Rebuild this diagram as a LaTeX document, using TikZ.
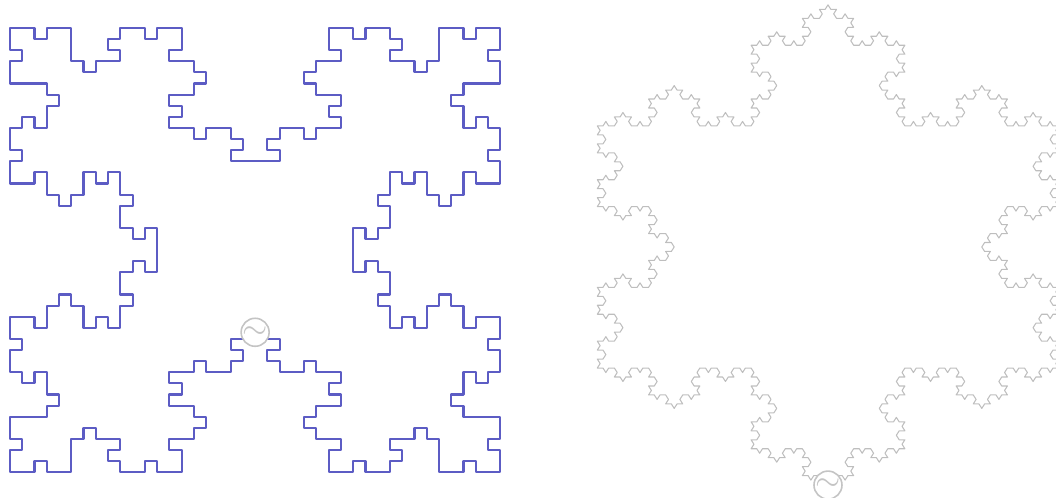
\documentclass[tikz,border=0pt]{standalone}
\definecolor{antblue}{RGB}{92,92,196}
\definecolor{flakegray}{RGB}{190,190,190}
\definecolor{feedgray}{RGB}{196,196,196}

% point stack for the grid curve: drops repeated and collinear points
\newcount\qn
\newif\ifqsame
\newif\ifqcol
\def\qX#1{\csname qx\the#1\endcsname}
\def\qY#1{\csname qy\the#1\endcsname}
\def\qpush#1#2{\edef\qpx{#1}\edef\qpy{#2}\qpushloop}
\def\qpushloop{%
  \qsamefalse\qcolfalse
  \ifnum\qn>0 \ifnum\qX\qn=\qpx\relax\ifnum\qY\qn=\qpy\relax\qsametrue\fi\fi\fi
  \ifnum\qn>1
    \ifnum\qX\qn=\qpx\relax\ifnum\qX{\numexpr\qn-1\relax}=\qpx\relax\qcoltrue\fi\fi
    \ifnum\qY\qn=\qpy\relax\ifnum\qY{\numexpr\qn-1\relax}=\qpy\relax\qcoltrue\fi\fi
  \fi
  \let\qnext\relax
  \ifqsame\else
    \ifqcol
      \global\advance\qn-1 \let\qnext\qpushloop
    \else
      \global\advance\qn1
      \expandafter\xdef\csname qx\the\qn\endcsname{\qpx}%
      \expandafter\xdef\csname qy\the\qn\endcsname{\qpy}%
    \fi
  \fi
  \qnext}

\begin{document}
\begin{tikzpicture}[
    x=0.01cm, y=-0.01cm,
    declare function={
      koff(\x)=(\x==1) ? 1 : ((\x==2) ? -1 : 0);
      kdir(\x)=koff(mod(\x,4))+koff(mod(floor(\x/4),4))+koff(mod(floor(\x/16),4))+koff(floor(\x/64));
    },
    quadline/.style={draw=antblue, line width=0.6pt, line join=round},
    flakeline/.style={draw=flakegray, line width=0.3pt, line join=round},
    feed/.style={circle, draw=feedgray, fill=white, line width=0.45pt,
      minimum size=0.28cm, inner sep=0pt, text=feedgray, font=\small}
  ]
  \useasboundingbox (0,0) rectangle (1056,498);

  % Koch island on a square, inward, snapped to a grid
  \def\gridn{40}
  \def\hone{0.3333}
  \global\qn=0
  \qpush{0}{0}
  \xdef\qox{0}\xdef\qoy{0}\xdef\qgv{0}
  \foreach \s in {0,...,3}{%
    \pgfmathtruncatemacro\tx{round(cos(90*\s))}%
    \pgfmathtruncatemacro\ty{round(sin(90*\s))}%
    \pgfmathtruncatemacro\cx{\gridn*((\s==1)||(\s==2))}%
    \pgfmathtruncatemacro\cy{\gridn*((\s==2)||(\s==3))}%
    \foreach \j in {0,...,3}{%
      \pgfmathsetmacro\pu{(\j==1)/3+(\j==2)/2+(\j==3)*2/3}%
      \pgfmathsetmacro\pv{(\j==2)*\hone}%
      \pgfmathsetmacro\du{((\j==0)||(\j==3))/3+((\j==1)||(\j==2))/6}%
      \pgfmathsetmacro\dv{(\j==1)*\hone-(\j==2)*\hone}%
      \xdef\qU{0}\xdef\qV{0}%
      \foreach \i in {0,...,63}{%
        \pgfmathtruncatemacro\mm{mod(kdir(\i)+12,6)}%
        \pgfmathtruncatemacro\nU{\qU+(\mm==0)*2-(\mm==3)*2+(\mm==1)+(\mm==5)-(\mm==2)-(\mm==4)}%
        \pgfmathtruncatemacro\nV{\qV+(\mm==1)+(\mm==2)-(\mm==4)-(\mm==5)}%
        \pgfmathtruncatemacro\gu{round((\pu+\nU/54*\du-\nV*0.032075*\dv)*\gridn)}%
        \pgfmathtruncatemacro\gv{round((\pv+\nU/54*\dv+\nV*0.032075*\du)*\gridn)}%
        \pgfmathtruncatemacro\gx{\cx+\gu*\tx-\gv*\ty}%
        \pgfmathtruncatemacro\gy{\cy+\gu*\ty+\gv*\tx}%
        \pgfmathtruncatemacro\vfirst{(\gv>\qgv)==(mod(\s,2)==0)}%
        \ifnum\vfirst=1 \qpush{\qox}{\gy}\else\qpush{\gx}{\qoy}\fi
        \qpush{\gx}{\gy}%
        \xdef\qox{\gx}\xdef\qoy{\gy}\xdef\qgv{\gv}%
        \xdef\qU{\nU}\xdef\qV{\nV}%
      }%
    }%
  }
  \edef\qlast{\the\qn}
  \gdef\quadpath{}
  \foreach \j in {2,...,\qlast}{%
    \xdef\quadpath{\quadpath -- (\csname qx\j\endcsname,\csname qy\j\endcsname)}}
  \begin{scope}[shift={(10,28)}, x=0.1225cm, y=-0.111cm]
    \draw[quadline] (0,0) \quadpath -- cycle;
    \coordinate (quadfeed) at (20,27.4);
  \end{scope}

  % Koch snowflake
  \begin{scope}[shift={(828,247)}, x=0.056923cm, y=0.051748cm]
    \draw[flakeline] (0,46.765)
      \foreach \m in {0,1,2}{\foreach \i in {0,...,255}{ -- ++({-60-120*\m+60*kdir(\i)}:1) }} -- cycle;
    \coordinate (flaketip) at (0,-46.765);
  \end{scope}

  \node[feed] (quadsrc) at (quadfeed) {$\sim$};
  \node[feed] (flakesrc) at ([yshift=0.04cm]flaketip) {$\sim$};
\end{tikzpicture}
\end{document}
